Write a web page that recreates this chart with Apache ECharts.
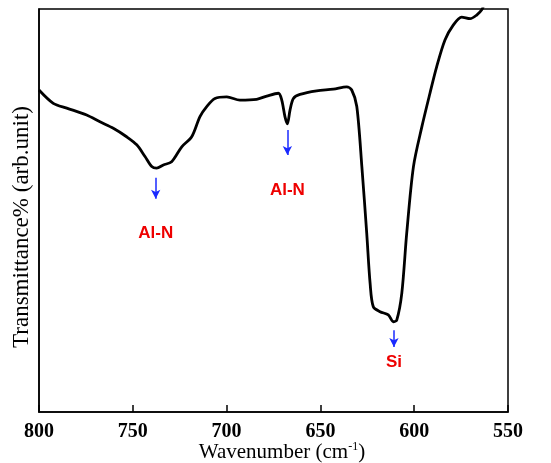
<!DOCTYPE html>
<html>
<head>
<meta charset="utf-8">
<script src="https://cdn.jsdelivr.net/npm/echarts@6/dist/echarts.min.js"></script>
<style>html,body{margin:0;padding:0;background:#fff}#c{width:551px;height:463px}</style>
</head>
<body>
<div id="c"></div>
<script>
var wavenumber = [800, 792.4, 785.2, 774.6, 767.5, 760.4, 753.3, 747.9, 743.5, 739.9, 737.3, 733.7, 729.3, 723.9, 718.6, 714.2, 710.6, 706.2, 699.9, 692.9, 684.0, 678.6, 672.4, 670.6, 668.9, 667.6, 666.2, 664.4, 660.9, 652.0, 643.1, 636.0, 633.3, 630.6, 627.9, 625.3, 623.5, 621.8, 618.2, 613.8, 611.1, 609.3, 606.6, 604.0, 600.4, 595.9, 591.6, 588.0, 583.6, 579.2, 574.7, 570.2, 566.7, 564.0, 562.5];
var transmittance = [79.9, 76.6, 75.4, 73.7, 72.0, 70.4, 68.3, 66.3, 63.4, 60.9, 60.5, 61.3, 62.1, 65.8, 68.3, 73.3, 75.8, 77.8, 78.2, 77.4, 77.6, 78.4, 79.1, 77.4, 73.3, 71.5, 74.9, 77.8, 78.8, 79.7, 80.1, 80.7, 79.9, 75.8, 60.9, 44.3, 31.9, 26.1, 24.9, 24.1, 22.4, 22.8, 29.5, 44.3, 60.9, 70.8, 79.1, 85.7, 92.3, 96.0, 98.0, 97.6, 98.5, 99.8, 101.5];
var peakLabels = ['Al-N', 'Al-N', 'Si'];
var peakWavenumber = [737.8, 667.6, 610.8];
var arrowTop = [58.1, 70.0, 20.3];
var arrowBottom = [52.9, 63.8, 16.1];
var labelLevel = [44.4, 54.9, 12.4];
var xTicks = [800, 750, 700, 650, 600, 550];

var chart = echarts.init(document.getElementById('c'));
var lineData = wavenumber.map(function (w, i) { return [w, transmittance[i]]; });
var arrows = peakWavenumber.map(function (w, i) {
  return [{ coord: [w, arrowTop[i]] }, { coord: [w, arrowBottom[i]] }];
});
var labels = peakWavenumber.map(function (w, i) { return { value: [w, labelLevel[i]], name: peakLabels[i] }; });

chart.setOption({
  animation: false,
  backgroundColor: '#fff',
  grid: { left: 39, right: 43, top: 9, bottom: 51, show: true, borderColor: '#000', borderWidth: 1.5 },
  xAxis: {
    type: 'value', min: 550, max: 800, interval: 50, inverse: true,
    axisLine: { show: true, lineStyle: { color: '#000', width: 1.5 } },
    axisTick: { show: true, inside: true, length: 7, lineStyle: { color: '#000', width: 1.5 } },
    splitLine: { show: false },
    axisLabel: {
      color: '#000', fontFamily: 'Liberation Serif', fontWeight: 'bold', fontSize: 20, margin: 10,
      formatter: function (v) { return xTicks.indexOf(v) >= 0 ? String(v) : ''; }
    }
  },
  yAxis: {
    type: 'value', min: 0, max: 100,
    axisLine: { show: true, lineStyle: { color: '#000', width: 1.5 } },
    axisTick: { show: false }, axisLabel: { show: false }, splitLine: { show: false }
  },
  graphic: [
    {
      type: 'text',
      style: {
        text: '{a|Wavenumber (cm}{s|-1}{a|)}',
        rich: {
          a: { fontFamily: 'Liberation Serif', fontSize: 21, fill: '#000' },
          s: { fontFamily: 'Liberation Serif', fontSize: 12, fill: '#000', verticalAlign: 'top', padding: [0, 0, 10, 0] }
        },
        textAlign: 'center', textVerticalAlign: 'middle'
      },
      position: [282, 452]
    },
    {
      type: 'text', rotation: Math.PI / 2,
      style: {
        text: 'Transmittance% (arb.unit)', fontFamily: 'Liberation Serif', fontSize: 23, fill: '#000',
        textAlign: 'center', textVerticalAlign: 'middle'
      },
      position: [22, 227]
    }
  ],
  series: [
    {
      type: 'line', data: lineData, smooth: 0.3, showSymbol: false, clip: true,
      lineStyle: { color: '#000', width: 2.8 },
      markLine: {
        silent: true, symbol: ['none', 'arrow'], symbolSize: [7, 9],
        lineStyle: { color: '#1a2aff', width: 1.5, type: 'solid' },
        label: { show: false },
        data: arrows
      }
    },
    {
      type: 'scatter', data: labels, symbolSize: 0, silent: true,
      itemStyle: { opacity: 1 },
      label: {
        show: true, position: 'inside', formatter: '{b}', opacity: 1,
        color: '#ee0000', fontFamily: 'Liberation Sans', fontWeight: 'bold', fontSize: 17
      }
    }
  ]
});
</script>
</body>
</html>
